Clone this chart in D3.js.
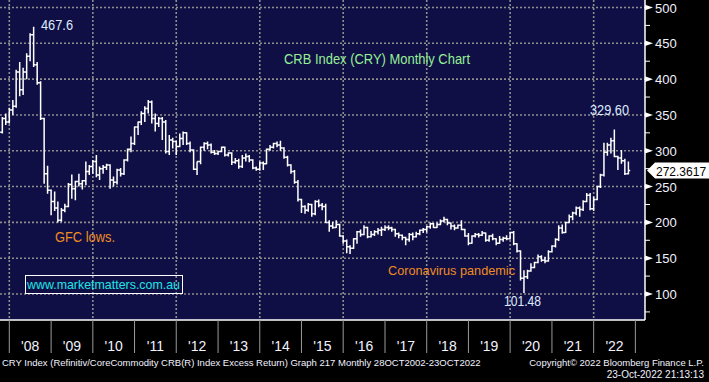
<!DOCTYPE html>
<html>
<head>
<meta charset="utf-8">
<script src="https://cdn.jsdelivr.net/npm/d3@7"></script>
<style>
  body { margin: 0; background: #000; }
  svg { display: block; }
  text { font-family: "Liberation Sans", Arial, sans-serif; }
</style>
</head>
<body>
<div id="chart"></div>
<script>
// monthly bars, Sep 2007 .. Oct 2022
const firstMonth = new Date(2007, 8, 1);
const lastMonth = new Date(2022, 9, 1);

const opens = [
  318, 326, 345, 340,
  357, 362, 410, 385, 410, 432, 462, 420, 395, 345, 268, 245,
  229, 220, 203, 217, 222, 253, 247, 257, 254, 258, 271, 278,
  285, 266, 275, 277, 280, 259, 256, 273, 268, 287, 302, 310,
  333, 340, 352, 359, 368, 345, 338, 345, 340, 299, 315, 313,
  306, 317, 325, 310, 301, 274, 285, 305, 310, 308, 298, 296,
  299, 305, 294, 297, 284, 286, 278, 290, 292, 287, 276, 274,
  283, 282, 302, 305, 310, 308, 304, 291, 280, 271, 256, 232,
  222, 217, 225, 212, 229, 224, 222, 200, 195, 193, 197, 181,
  174, 166, 164, 177, 187, 183, 193, 180, 183, 187, 189, 190,
  193, 192, 190, 184, 182, 179, 176, 183, 180, 184, 189, 190,
  194, 198, 193, 197, 202, 204, 199, 195, 192, 196, 190, 181,
  171, 181, 183, 182, 185, 175, 181, 177, 171, 176, 178, 177,
  186, 170, 160, 122, 124, 132, 137, 144, 152, 147, 146, 159,
  167, 176, 192, 186, 200, 208, 213, 220, 218, 229, 238, 219,
  232, 250, 266, 298, 308, 314, 292, 290, 286, 268
];
const highs = [
  334, 347, 352, 360,
  371, 413, 424, 416, 436, 464, 473, 424, 397, 346, 279, 246,
  243, 229, 220, 226, 255, 267, 258, 268, 259, 285, 280, 287,
  294, 278, 280, 282, 281, 264, 275, 276, 288, 303, 320, 334,
  341, 355, 362, 371, 370, 352, 347, 347, 343, 322, 318, 314,
  324, 327, 326, 313, 302, 285, 306, 312, 313, 310, 301, 300,
  306, 306, 298, 298, 290, 289, 294, 296, 294, 288, 278, 285,
  285, 303, 308, 311, 313, 314, 305, 293, 281, 273, 259, 233,
  224, 227, 226, 231, 232, 227, 226, 203, 201, 203, 198, 182,
  176, 168, 178, 188, 190, 196, 194, 188, 189, 192, 194, 196,
  196, 194, 191, 186, 183, 180, 185, 186, 187, 190, 192, 195,
  200, 199, 200, 204, 208, 205, 200, 197, 197, 203, 191, 185,
  182, 185, 185, 188, 186, 182, 184, 178, 181, 180, 182, 187,
  188, 171, 161, 133, 134, 143, 145, 155, 154, 152, 161, 168,
  178, 196, 197, 201, 211, 215, 222, 222, 231, 241, 241, 236,
  251, 268, 311, 311, 318, 329.6, 293, 301, 289, 285
];
const lows = [
  314, 324, 336, 338,
  350, 360, 376, 378, 400, 425, 417, 392, 343, 254, 240, 210,
  216, 200, 201, 214, 221, 233, 231, 250, 246, 252, 266, 268,
  263, 259, 268, 273, 247, 250, 253, 264, 266, 285, 298, 308,
  322, 336, 340, 352, 338, 327, 333, 315, 296, 294, 303, 294,
  305, 308, 308, 298, 273, 266, 281, 300, 302, 296, 294, 294,
  298, 292, 292, 280, 282, 275, 276, 285, 284, 274, 272, 272,
  273, 281, 300, 303, 305, 300, 289, 278, 268, 254, 229, 213,
  212, 215, 208, 210, 221, 217, 199, 187, 191, 192, 180, 170,
  157, 156, 163, 170, 180, 182, 178, 179, 181, 183, 181, 188,
  189, 187, 180, 178, 175, 168, 173, 175, 179, 182, 185, 186,
  191, 192, 192, 196, 200, 196, 190, 189, 191, 189, 180, 168,
  170, 179, 179, 181, 173, 173, 175, 168, 170, 173, 175, 176,
  168, 158, 119, 101.48, 121, 131, 136, 143, 145, 143, 145, 158,
  165, 174, 184, 185, 199, 203, 210, 208, 216, 228, 217, 216,
  231, 248, 264, 293, 296, 291, 273, 282, 266, 267
];
const closes = [
  326, 345, 340, 357,
  362, 410, 385, 410, 432, 462, 420, 395, 345, 268, 245, 229,
  220, 203, 217, 222, 253, 247, 257, 254, 258, 271, 278, 285,
  266, 275, 277, 280, 259, 256, 273, 268, 287, 302, 310, 333,
  340, 352, 359, 368, 345, 338, 345, 340, 299, 315, 313, 306,
  317, 325, 310, 301, 274, 285, 305, 310, 308, 298, 296, 299,
  305, 294, 297, 284, 286, 278, 290, 292, 287, 276, 274, 283,
  282, 302, 305, 310, 308, 304, 291, 280, 271, 256, 232, 222,
  217, 225, 212, 229, 224, 222, 200, 195, 193, 197, 181, 174,
  166, 164, 177, 187, 183, 193, 180, 183, 187, 189, 190, 193,
  192, 190, 184, 182, 179, 176, 183, 180, 184, 189, 190, 194,
  198, 193, 197, 202, 204, 199, 195, 192, 196, 190, 181, 171,
  181, 183, 182, 185, 175, 181, 177, 171, 176, 178, 177, 186,
  170, 160, 122, 124, 132, 137, 144, 152, 147, 146, 159, 167,
  176, 192, 186, 200, 208, 213, 220, 218, 229, 238, 219, 232,
  250, 266, 298, 308, 314, 292, 290, 286, 268, 272.3617
];

const yTicks = [100, 150, 200, 250, 300, 350, 400, 450, 500];
const yMinorTicks = [75, 125, 175, 225, 275, 325, 375, 425, 475];
const yearLabels = ["'08", "'09", "'10", "'11", "'12", "'13", "'14", "'15", "'16", "'17", "'18", "'19", "'20", "'21", "'22"];
const gridYears = [2008, 2010, 2012, 2014, 2016, 2018, 2020, 2022];

const lastPrice = "272.3617";
const peakLabel = "467.6", recentHighLabel = "329.60", covidLowLabel = "101.48";

// layout
const W = 709, H = 382;
const plotW = 645, plotH = 320;

const months = d3.timeMonth.range(firstMonth, d3.timeMonth.offset(lastMonth, 1));
const bars = months.map((m, i) => ({
  date: d3.timeMonth.offset(m, 1),   // bar sits at month end
  o: opens[i], h: highs[i], l: lows[i], c: closes[i]
}));

const x = d3.scaleTime()
  .domain([new Date(2008, 0, 1), new Date(2022, 0, 1)])
  .range([9.3, 9.3 + 14 * 41.74]);
const y = d3.scaleLinear().domain([100, 500]).range([294, 7.5]);

const svg = d3.select("#chart").append("svg")
  .attr("width", W).attr("height", H);

svg.append("rect").attr("width", W).attr("height", H).attr("fill", "#000");
svg.append("rect").attr("width", plotW).attr("height", plotH).attr("fill", "#0f0f45");

svg.append("clipPath").attr("id", "plotClip")
  .append("rect").attr("width", plotW).attr("height", plotH);

// dotted grid
const grid = svg.append("g")
  .attr("stroke", "#8e8e8e")
  .attr("stroke-width", 1.6)
  .attr("stroke-dasharray", "2,2");
grid.selectAll(".hg").data(yTicks).enter().append("line")
  .attr("x1", 0).attr("x2", plotW)
  .attr("y1", d => y(d)).attr("y2", d => y(d));
grid.selectAll(".vg").data(gridYears).enter().append("line")
  .attr("x1", d => x(new Date(d, 0, 1))).attr("x2", d => x(new Date(d, 0, 1)))
  .attr("y1", 0).attr("y2", plotH);

// OHLC bars
const barG = svg.append("g")
  .attr("clip-path", "url(#plotClip)")
  .attr("stroke", "#fff")
  .attr("stroke-width", 1.5)
  .attr("fill", "none");
const tick = 1.8;
barG.selectAll("path").data(bars).enter().append("path")
  .attr("d", d => {
    const bx = x(d.date);
    return `M${bx},${y(d.h)}V${y(d.l)}` +
      `M${bx - tick},${y(d.o)}H${bx}` +
      `M${bx},${y(d.c)}H${bx + tick}`;
  });

// axes frame
svg.append("line").attr("x1", 0).attr("x2", plotW).attr("y1", plotH).attr("y2", plotH)
  .attr("stroke", "#fff").attr("stroke-width", 1.5);
svg.append("line").attr("x1", plotW).attr("x2", plotW).attr("y1", 0).attr("y2", plotH)
  .attr("stroke", "#fff").attr("stroke-width", 1.5);

// right y axis
const yAxis = svg.append("g");
yAxis.selectAll(".minor").data(yMinorTicks).enter().append("line")
  .attr("x1", plotW).attr("x2", plotW + 5)
  .attr("y1", d => y(d)).attr("y2", d => y(d))
  .attr("stroke", "#fff").attr("stroke-width", 1);
yAxis.selectAll(".major").data(yTicks).enter().append("path")
  .attr("d", d => `M${plotW},${y(d) - 2.8}L${plotW + 8},${y(d)}L${plotW},${y(d) + 2.8}Z`)
  .attr("fill", "#fff");
yAxis.selectAll("text").data(yTicks).enter().append("text")
  .attr("x", 655).attr("y", d => y(d) + 5)
  .attr("fill", "#f2f2ff").attr("font-size", 13)
  .text(d => d);

// last price flag
const yl = y(closes[closes.length - 1]);
svg.append("path")
  .attr("d", `M647,${yl}L655,${yl - 8}H709V${yl + 8}H655Z`)
  .attr("fill", "#fff");
svg.append("text").attr("x", 656).attr("y", yl + 5)
  .attr("fill", "#000").attr("font-size", 12)
  .text(lastPrice);

// x axis years
const years = d3.range(2008, 2024);
svg.append("g").selectAll("line").data(years).enter().append("line")
  .attr("x1", d => x(new Date(d, 0, 1))).attr("x2", d => x(new Date(d, 0, 1)))
  .attr("y1", plotH).attr("y2", 353)
  .attr("stroke", "#9a9a9a").attr("stroke-width", 1);
svg.append("g").selectAll("text").data(yearLabels).enter().append("text")
  .attr("x", (d, i) => (x(new Date(2008 + i, 0, 1)) + x(new Date(2009 + i, 0, 1))) / 2)
  .attr("y", 351)
  .attr("text-anchor", "middle")
  .attr("fill", "#f2f2ff").attr("font-size", 14)
  .text(d => d);

// annotations
function label(txt, lx, ly, color, size, len) {
  svg.append("text").attr("x", lx).attr("y", ly)
    .attr("fill", color).attr("font-size", size)
    .attr("textLength", len).attr("lengthAdjust", "spacingAndGlyphs")
    .text(txt);
}
label(peakLabel, 41, 30, "#dfeaff", 14, 32);
label(recentHighLabel, 590, 115, "#dfeaff", 14, 39);
label(covidLowLabel, 504, 306, "#dfeaff", 14, 37);
label("CRB Index (CRY) Monthly Chart", 284, 64, "#96ee96", 14, 186);
label("GFC lows.", 55, 242, "#ee8c22", 14, 60);
label("Coronavirus pandemic", 388, 275, "#ee8c22", 13, 127);
svg.append("rect").attr("x", 25.5).attr("y", 275.5).attr("width", 157).attr("height", 18)
  .attr("fill", "none").attr("stroke", "#fff").attr("stroke-width", 1);
label("www.marketmatters.com.au", 27, 289, "#1ee6e6", 13, 153);

// footer
svg.append("text").attr("x", 2).attr("y", 366).attr("fill", "#f2f2ff").attr("font-size", 9.5)
  .text("CRY Index (Refinitiv/CoreCommodity CRB(R) Index Excess Return) Graph 217  Monthly 28OCT2002-23OCT2022");
svg.append("text").attr("x", 704).attr("y", 366).attr("text-anchor", "end")
  .attr("fill", "#f2f2ff").attr("font-size", 9.5)
  .text("Copyright\u00a9 2022 Bloomberg Finance L.P.");
svg.append("text").attr("x", 704).attr("y", 378).attr("text-anchor", "end")
  .attr("fill", "#f2f2ff").attr("font-size", 10)
  .text("23-Oct-2022 21:13:13");
</script>
</body>
</html>
